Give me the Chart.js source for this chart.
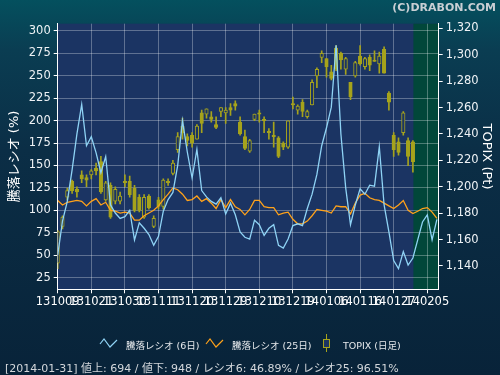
<!DOCTYPE html>
<html>
<head>
<meta charset="utf-8">
<script src="https://cdn.jsdelivr.net/npm/chart.js@4.4.1/dist/chart.umd.min.js"></script>
<style>
  html, body { margin: 0; padding: 0; }
  body {
    width: 500px; height: 375px; overflow: hidden; position: relative;
    background: linear-gradient(to bottom, #04505e 0px, #0a3d52 50px, #0b2e46 150px, #082339 375px);
    font-family: "DejaVu Sans", "Noto Sans CJK JP", sans-serif;
  }
  #chart { position: absolute; left: 0; top: 0; }
  #copy { position: absolute; right: 4px; top: 1px; color: #c9cfd4; font-weight: bold; font-size: 11px; }
  .lg { position: absolute; top: 338px; color: #e6e9ec; font-size: 9.5px; white-space: nowrap; }
  #status { position: absolute; left: 5px; top: 359px; color: #d3d7db; font-size: 11px; white-space: nowrap; }
</style>
</head>
<body>
<canvas id="chart" width="500" height="375"></canvas>
<div id="copy">(C)DRABON.COM</div>
<svg class="lg" style="left:99px;top:337px" width="20" height="11"><polyline points="1,7 5,2 11,10 18,3" fill="none" stroke="#8fd3f5" stroke-width="1.2"/></svg>
<div class="lg" style="left:126px">騰落レシオ (6日)</div>
<svg class="lg" style="left:205px;top:337px" width="20" height="11"><polyline points="1,7 5,2 11,10 18,3" fill="none" stroke="#ffa21a" stroke-width="1.2"/></svg>
<div class="lg" style="left:232px">騰落レシオ (25日)</div>
<svg class="lg" style="left:321px;top:334px" width="11" height="19"><line x1="5.5" y1="0" x2="5.5" y2="18" stroke="#a6a31c"/><rect x="2.5" y="5.5" width="6" height="8" fill="#1b3463" stroke="#a6a31c"/></svg>
<div class="lg" style="left:343px">TOPIX (日足)</div>
<div id="status"></div>
<script>
// x 軸の目盛り (7 営業日ごと)
const tickLabels = ['131009', '131021', '131030', '131111', '131120', '131129',
  '131210', '131219', '140106', '140116', '140127', '140205'];
const ratioTicks = [25, 50, 75, 100, 125, 150, 175, 200, 225, 250, 275, 300];
const topixTicks = [1140, 1160, 1180, 1200, 1220, 1240, 1260, 1280, 1300, 1320];

// 騰落レシオ 6日 / 25日
const ratio6 = [50, 88, 110, 145, 185, 218, 172, 182, 164, 142,
  160, 106, 97, 91, 93, 100, 67, 86, 80, 73,
  61, 71, 99, 112, 120, 150, 200, 165, 136, 168,
  122, 115, 110, 107, 114, 96, 108, 95, 76, 70,
  68, 89, 84, 72, 80, 84, 61, 58, 68, 83,
  85, 83, 102, 118, 140, 172, 192, 215, 284, 185,
  125, 84, 106, 124, 118, 128, 127, 171, 106, 76,
  44, 35, 54, 39, 46.89, 67, 87, 95, 67, 90];
const ratio25 = [111, 106, 109, 110, 111, 110, 105, 110, 113, 106,
  109, 100, 99, 97, 98, 97, 89, 89, 94, 97,
  100, 105, 112, 118, 125, 123, 118, 111, 112, 116,
  110, 113, 108, 102, 112, 103, 112, 104, 101, 95,
  101, 111, 111, 104, 103, 103, 95, 97, 98, 90,
  85, 85, 88, 94, 101, 100, 99, 97, 105, 104,
  104, 96, 108, 117, 119, 114, 112, 111, 108, 105,
  102, 106, 111, 100, 96.51, 99, 102, 103, 98, 91];

// TOPIX 日足
const topixOpen = [1142, 1170, 1192, 1204, 1198, 1209, 1207, 1209, 1214, 1219,
  1190, 1201, 1189, 1189, 1204, 1204, 1199, 1192, 1177, 1193,
  1170, 1190, 1185, 1204, 1210, 1228, 1246, 1238, 1239, 1236,
  1256, 1255, 1253, 1247, 1257, 1256, 1260, 1263, 1249, 1238,
  1227, 1251, 1256, 1251, 1242, 1239, 1237, 1233, 1230, 1263,
  1258, 1264, 1253, 1262, 1284, 1298, 1297, 1287, 1305, 1301,
  1289, 1279, 1284, 1299, 1291, 1298, 1296, 1293, 1304, 1271,
  1239, 1234, 1241, 1235, 1234];
const topixHigh = [1167, 1178, 1199, 1205, 1200, 1212, 1209, 1213, 1218, 1223,
  1204, 1203, 1200, 1196, 1209, 1208, 1201, 1194, 1194, 1194,
  1178, 1192, 1206, 1206, 1220, 1241, 1252, 1240, 1241, 1247,
  1258, 1259, 1257, 1253, 1260, 1260, 1263, 1265, 1253, 1243,
  1236, 1255, 1258, 1253, 1244, 1249, 1238, 1234, 1250, 1268,
  1262, 1266, 1258, 1281, 1290, 1303, 1297, 1292, 1307, 1302,
  1298, 1279, 1295, 1307, 1298, 1300, 1303, 1302, 1306, 1272,
  1241, 1237, 1257, 1237, 1235];
const topixLow = [1138, 1168, 1190, 1195, 1192, 1203, 1200, 1206, 1209, 1195,
  1189, 1176, 1187, 1187, 1200, 1192, 1181, 1181, 1176, 1183,
  1169, 1183, 1183, 1201, 1209, 1226, 1236, 1231, 1230, 1236,
  1241, 1252, 1249, 1244, 1253, 1248, 1254, 1258, 1239, 1228,
  1226, 1250, 1249, 1241, 1236, 1230, 1222, 1228, 1229, 1259,
  1255, 1253, 1252, 1262, 1275, 1294, 1283, 1281, 1288, 1289,
  1285, 1266, 1283, 1292, 1289, 1288, 1295, 1286, 1286, 1258,
  1223, 1224, 1239, 1216, 1211];
const topixClose = [1166, 1177, 1197, 1197, 1196, 1206, 1205, 1212, 1212, 1196,
  1203, 1177, 1198, 1193, 1203, 1194, 1182, 1182, 1192, 1184,
  1176, 1185, 1205, 1203, 1218, 1238, 1241, 1235, 1233, 1246,
  1248, 1259, 1251, 1245, 1260, 1258, 1258, 1261, 1240, 1229,
  1235, 1255, 1255, 1250, 1241, 1238, 1223, 1230, 1250, 1262,
  1261, 1257, 1257, 1279, 1289, 1301, 1291, 1282, 1289, 1296,
  1297, 1268, 1294, 1293, 1297, 1292, 1295, 1299, 1286, 1264,
  1228, 1226, 1256, 1223, 1219];

const lastDate = '2014-01-31';
const advances = 694;
const declines = 948;

const PLOT_BG = '#1b3463';
const CANDLE = '#a6a31c';
const last = topixClose.length - 1;

document.getElementById('status').textContent =
  '[' + lastDate + ']  値上: ' + advances + ' / 値下: ' + declines +
  ' / レシオ6: ' + ratio6[last].toFixed(2) + '% / レシオ25: ' + ratio25[last].toFixed(2) + '%';

Chart.defaults.font.family = '"DejaVu Sans", "Noto Sans CJK JP", sans-serif';
Chart.defaults.color = '#ffffff';

const plotBackground = {
  id: 'plotBackground',
  beforeDraw(chart) {
    const { ctx, chartArea: a, scales } = chart;
    ctx.save();
    ctx.fillStyle = PLOT_BG;
    ctx.fillRect(a.left, a.top, a.right - a.left, a.bottom - a.top);
    const fx = scales.x.getPixelForValue(last) + 0.5;
    ctx.fillStyle = '#01473a';
    ctx.fillRect(fx, a.top, a.right - fx, a.bottom - a.top);
    ctx.restore();
  }
};

const gridColor = 'rgba(255,255,255,0.3)';

new Chart(document.getElementById('chart'), {
  type: 'bar',
  data: {
    datasets: [
      {
        type: 'line', label: '騰落レシオ (6日)', yAxisID: 'y',
        data: ratio6.map((v, i) => ({ x: i, y: v })),
        borderColor: '#8fd3f5', borderWidth: 1.3, pointRadius: 0, tension: 0, order: 0
      },
      {
        type: 'line', label: '騰落レシオ (25日)', yAxisID: 'y',
        data: ratio25.map((v, i) => ({ x: i, y: v })),
        borderColor: '#ffa21a', borderWidth: 1.3, pointRadius: 0, tension: 0, order: 1
      },
      {
        label: 'TOPIX (日足)', yAxisID: 'y1',
        data: topixOpen.map((o, i) => ({ x: i, y: [o, topixClose[i]] })),
        backgroundColor: topixOpen.map((o, i) => topixClose[i] < o ? CANDLE : PLOT_BG),
        borderColor: CANDLE, borderWidth: 1, borderSkipped: false,
        barThickness: 3.5, grouped: false, order: 2
      },
      {
        label: 'wick', yAxisID: 'y1',
        data: topixLow.map((l, i) => ({ x: i, y: [l, topixHigh[i]] })),
        backgroundColor: CANDLE, borderWidth: 0,
        barThickness: 1, grouped: false, order: 3
      }
    ]
  },
  options: {
    responsive: false,
    animation: false,
    layout: { padding: { top: 23.7, left: 0, right: 0, bottom: 0 } },
    plugins: { legend: { display: false }, tooltip: { enabled: false } },
    scales: {
      x: {
        type: 'linear', min: 0, max: 79.375, offset: false,
        afterBuildTicks: s => { s.ticks = tickLabels.map((_, k) => ({ value: k * 7 })); },
        afterFit: s => { s.height = 375 - 289.3; },
        ticks: {
          callback: v => tickLabels[Math.round(v / 7)],
          color: '#ffffff', font: { size: 11.5 }, maxRotation: 0, autoSkip: false, padding: 2
        },
        grid: { color: gridColor, tickColor: '#ffffff', tickLength: 4, offset: false },
        border: { color: '#ffffff' }
      },
      y: {
        position: 'left', min: 12, max: 308,
        afterBuildTicks: s => { s.ticks = ratioTicks.map(v => ({ value: v })); },
        afterFit: s => { s.width = 57.7; },
        ticks: { color: '#eef2f5', font: { size: 11.5 }, padding: 3 },
        grid: { color: gridColor, tickColor: '#ffffff', tickLength: 4 },
        border: { color: '#ffffff' },
        title: { display: true, text: '騰落レシオ (%)', color: '#ffffff', font: { size: 13 }, padding: { top: 7, bottom: 0 } }
      },
      y1: {
        position: 'right', min: 1122.3, max: 1323.5,
        afterBuildTicks: s => { s.ticks = topixTicks.map(v => ({ value: v })); },
        afterFit: s => { s.width = 61.3; },
        ticks: { color: '#eef2f5', font: { size: 11.5 }, padding: 3, callback: v => v.toLocaleString('en-US') },
        grid: { drawOnChartArea: false, tickColor: '#ffffff', tickLength: 4 },
        border: { color: '#ffffff' },
        title: { display: true, text: 'TOPIX (Pt)', color: '#ffffff', font: { size: 13 }, padding: { top: 6, bottom: 0 } }
      }
    }
  },
  plugins: [plotBackground]
});
</script>
</body>
</html>
